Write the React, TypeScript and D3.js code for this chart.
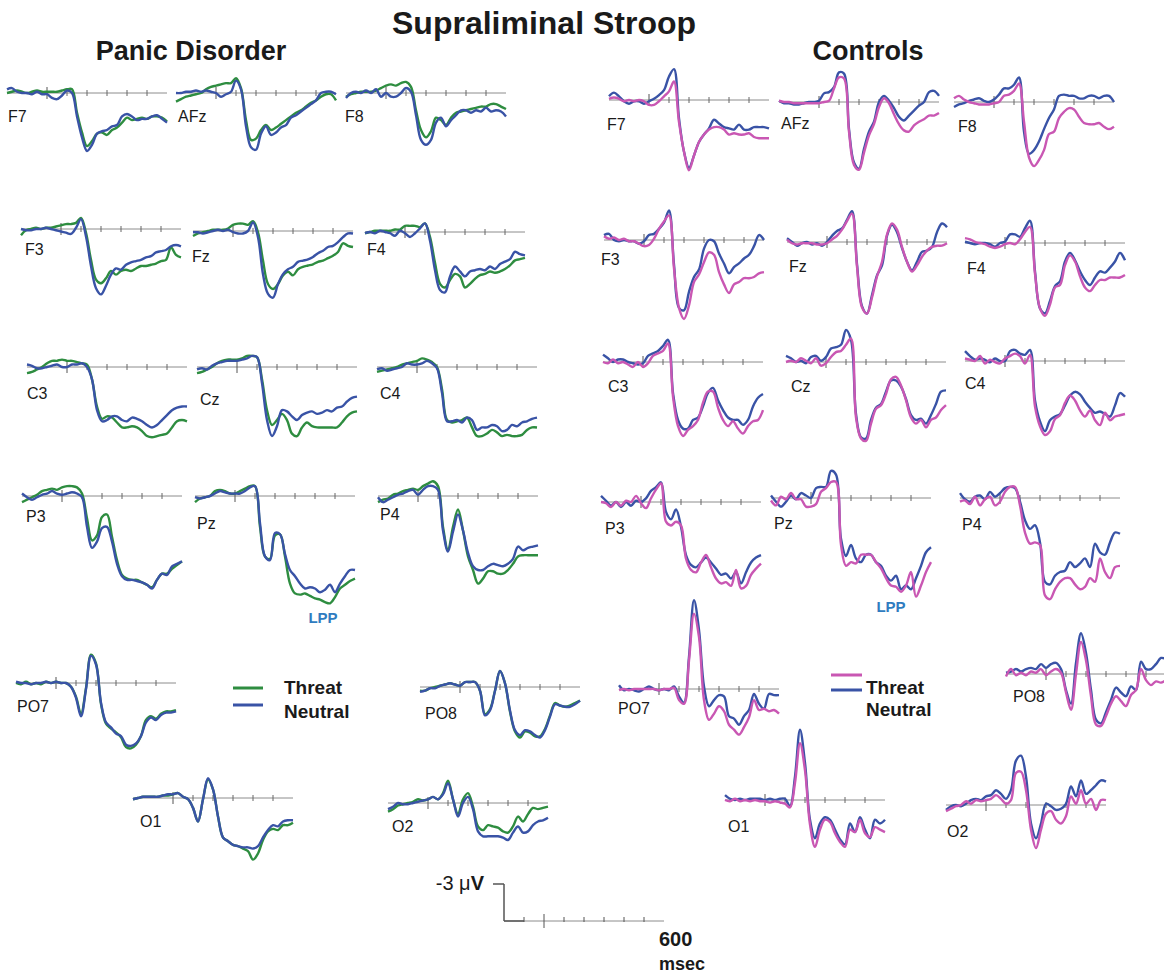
import React from 'react';
import * as d3 from 'd3';

// ---------- DATA (µV, positive plotted downward as in the original) ----------
const TIMES = [-200, -175, -150, -125, -100, -75, -50, -25, 0, 25, 50, 75, 100, 125, 150, 175, 200, 225, 250, 275, 300, 325, 350, 375, 400, 425, 450, 475, 500, 525, 550, 575, 600];
const AXIS_TICKS = [0, 100, 200, 300, 400, 500];
const SCALE_TICKS = [-100, 0, 100, 200, 300, 400, 500];

// Panic Disorder
const pdF7Threat = [0.0, -0.1, -0.2, -0.1, 0, -0.1, -0.2, -0.1, -0.1, -0.1, -0.1, -0.2, -0.3, -0.3, 1.6, 3.2, 4.3, 3.9, 3.3, 3.2, 3.4, 3.0, 2.8, 2.4, 2.0, 2.2, 2.1, 2.0, 2.1, 1.9, 1.9, 2.0, 2.3];
const pdF7Neutral = [-0.3, -0.4, -0.1, 0, 0, 0.1, -0.1, 0.1, 0.1, 0.4, 0.5, 0.2, -0.2, 0, 1.9, 3.6, 4.7, 4.2, 3.3, 3.1, 3.0, 2.7, 2.6, 1.9, 1.7, 1.9, 2.2, 2.1, 2.1, 1.9, 1.8, 2.1, 2.4];
const pdAFzThreat = [0.7, 0.5, 0.3, 0.2, 0.1, 0, -0.3, -0.5, -0.6, -0.7, -0.8, -0.8, -1.2, -0.4, 2.2, 3.8, 3.7, 3.0, 2.6, 3.0, 2.8, 2.5, 2.2, 1.9, 1.6, 1.4, 1.1, 0.8, 0.6, 0.3, 0.1, 0.1, 0.6];
const pdAFzNeutral = [0, 0, -0.1, -0.1, -0.2, -0.1, -0.2, -0.1, 0, 0.3, 0.1, -0.1, -1.0, -0.3, 2.7, 4.4, 4.6, 3.3, 2.7, 3.4, 3.2, 2.8, 2.6, 2.0, 1.8, 1.5, 1.2, 0.9, 0.6, 0, -0.1, -0.1, 0.1];
const pdF8Threat = [0.3, 0.1, 0, -0.1, -0.1, -0.1, -0.2, -0.4, -0.6, -0.7, -0.6, -0.8, -0.9, -0.5, 1.4, 3.0, 3.6, 3.1, 2.0, 2.2, 2.6, 2.0, 1.6, 1.5, 1.4, 1.3, 1.2, 1.1, 1.1, 0.9, 0.9, 1.1, 1.3];
const pdF8Neutral = [0.4, 0, -0.1, 0, -0.2, 0, -0.3, 0.3, 0, 0.3, 0.3, 0, -0.4, -0.1, 1.8, 3.8, 4.2, 3.8, 2.4, 2.0, 2.7, 2.2, 1.8, 1.4, 1.4, 1.6, 1.4, 1.5, 1.2, 1.5, 1.4, 1.5, 1.9];
const pdF3Threat = [0.5, 0.1, 0, -0.1, 0, -0.1, -0.1, -0.2, -0.3, -0.4, -0.4, -0.5, -0.9, 0.3, 2.5, 4.1, 4.4, 4.0, 3.4, 3.7, 3.4, 3.3, 3.4, 3.2, 3.0, 3.0, 2.9, 2.8, 2.6, 2.5, 1.5, 2.1, 2.3];
const pdF3Neutral = [0, 0.1, 0.1, 0, 0, -0.1, 0, 0.1, 0.2, 0.3, 0.4, -0.1, -0.8, 0.6, 3.0, 4.8, 5.3, 4.6, 3.7, 3.2, 3.3, 2.9, 2.7, 2.6, 2.5, 2.3, 2.2, 1.9, 1.8, 1.7, 1.4, 1.3, 1.4];
const pdFzThreat = [0.4, 0.2, 0.1, 0, -0.1, -0.1, -0.1, -0.2, -0.5, -0.6, -0.6, -0.5, -0.8, 0.1, 2.4, 4.3, 4.7, 4.3, 3.6, 3.3, 3.6, 3.1, 2.9, 2.8, 2.7, 2.5, 2.4, 2.2, 2.0, 1.7, 1.0, 1.2, 1.3];
const pdFzNeutral = [0.1, 0.1, 0.2, 0.1, 0, -0.1, 0, -0.1, 0.1, 0.2, 0.2, 0, -0.7, 0.5, 3.5, 5.1, 5.4, 4.3, 3.5, 3.1, 2.9, 2.5, 2.4, 2.3, 2.1, 1.8, 1.6, 1.3, 1.2, 0.9, 0.5, 0.2, 0.2];
const pdF4Threat = [0.1, 0, -0.1, -0.1, -0.1, -0.1, -0.2, -0.2, -0.5, -0.5, -0.5, -0.4, -0.7, 0.4, 2.5, 4.2, 4.5, 3.9, 3.4, 3.6, 4.5, 4.2, 3.8, 3.5, 3.4, 3.2, 3.3, 3.2, 3.0, 2.7, 2.3, 2.2, 2.1];
const pdF4Neutral = [0.1, 0, 0.1, -0.1, 0, 0.1, 0.3, -0.1, 0.1, 0.4, 0.1, -0.3, -0.7, 0.7, 3.1, 4.7, 4.9, 3.6, 2.8, 3.2, 3.6, 3.2, 3.1, 3.0, 3.1, 2.8, 3.0, 2.6, 2.4, 2.2, 1.6, 1.8, 1.9];
const pdC3Threat = [0.5, 0.4, 0.2, 0, -0.3, -0.5, -0.5, -0.6, -0.5, -0.5, -0.4, -0.3, -0.2, 1.0, 3.2, 4.2, 4.0, 4.1, 4.5, 4.9, 4.9, 4.8, 4.9, 5.2, 5.6, 5.7, 5.6, 5.5, 5.4, 4.9, 4.4, 4.3, 4.4];
const pdC3Neutral = [-0.2, -0.1, 0.1, 0.1, 0, -0.1, -0.2, 0, 0, -0.2, -0.2, -0.3, 0, 1.0, 3.5, 4.4, 4.3, 4.0, 4.0, 4.3, 4.4, 4.1, 4.2, 4.4, 4.7, 4.9, 4.7, 4.3, 3.9, 3.5, 3.3, 3.2, 3.2];
const pdCzThreat = [0.5, 0.4, 0.2, 0, -0.3, -0.5, -0.6, -0.6, -0.6, -0.7, -0.9, -0.9, -0.8, 1.0, 3.5, 4.7, 4.3, 3.8, 4.3, 5.4, 5.6, 4.9, 4.5, 4.8, 4.9, 4.9, 4.9, 4.9, 4.9, 4.5, 4.0, 3.7, 3.6];
const pdCzNeutral = [0.2, 0.1, 0.2, -0.1, -0.3, -0.4, -0.5, -0.5, -0.5, -0.6, -0.7, -0.9, -0.8, 1.3, 4.3, 5.6, 4.8, 3.5, 3.6, 4.0, 4.3, 3.9, 3.7, 3.6, 3.8, 3.7, 3.5, 3.6, 3.3, 3.2, 2.8, 2.5, 2.4];
const pdC4Threat = [0.4, 0.3, 0.2, 0.1, 0, -0.2, -0.3, -0.4, -0.5, -0.7, -0.6, -0.4, 0, 1.8, 4.3, 4.5, 4.4, 4.3, 4.1, 4.9, 5.6, 5.6, 5.4, 5.1, 5.3, 5.6, 5.5, 5.6, 5.6, 5.5, 5.1, 4.9, 4.9];
const pdC4Neutral = [0.2, 0.1, 0.3, 0.2, 0.1, 0, -0.3, -0.2, -0.2, -0.3, -0.5, -0.3, 0.1, 2.1, 4.4, 4.4, 4.3, 4.5, 4.1, 4.3, 5.1, 4.9, 4.9, 4.7, 4.8, 5.2, 5.1, 4.7, 4.8, 4.5, 4.4, 4.2, 4.1];
const pdP3Threat = [0.5, 0.3, 0.1, -0.1, -0.4, -0.5, -0.6, -0.5, -0.7, -0.8, -0.8, -0.7, -0.2, 1.8, 3.6, 3.2, 1.7, 1.5, 3.3, 5.2, 6.4, 6.7, 6.8, 6.8, 7.0, 7.2, 7.4, 6.8, 6.3, 6.3, 5.9, 5.6, 5.3];
const pdP3Neutral = [-0.2, 0.1, 0.3, 0.1, -0.1, -0.2, -0.4, -0.2, -0.1, -0.2, -0.3, -0.2, 0.1, 2.5, 4.2, 3.7, 2.6, 2.5, 3.7, 5.5, 6.5, 6.8, 6.8, 6.9, 7.0, 7.2, 7.5, 6.8, 6.3, 6.4, 5.7, 5.5, 5.3];
const pdPzThreat = [0.5, 0.2, 0.1, 0, -0.4, -0.5, -0.4, -0.2, -0.2, -0.4, -0.6, -0.8, -0.8, 2.5, 4.9, 5.1, 3.2, 3.1, 4.9, 7.1, 7.9, 8.0, 7.9, 8.1, 8.3, 8.4, 8.6, 8.7, 8.2, 7.5, 7.2, 6.9, 6.7];
const pdPzNeutral = [0.1, 0.2, 0.1, 0, -0.2, -0.4, -0.3, -0.2, -0.2, -0.2, -0.4, -0.7, -0.8, 2.2, 4.9, 5.2, 3.0, 3.1, 4.7, 6.0, 6.5, 7.1, 7.5, 7.4, 7.5, 7.8, 7.6, 7.2, 7.8, 7.1, 6.5, 6.0, 6.0];
const pdP4Threat = [0.5, 0.3, 0.2, -0.1, -0.2, -0.4, -0.5, -0.6, -0.5, -0.8, -1.0, -1.2, -0.8, 2.5, 4.4, 2.5, 1.1, 2.8, 4.9, 6.0, 7.1, 6.7, 6.1, 6.1, 6.3, 6.3, 6.0, 5.5, 4.9, 4.8, 4.8, 4.8, 4.8];
const pdP4Neutral = [0.1, 0.5, 0.3, 0.1, -0.1, -0.2, -0.4, -0.5, -0.1, -0.5, -0.8, -0.8, -0.5, 2.8, 4.5, 2.9, 1.5, 2.8, 4.6, 5.7, 6.0, 6.0, 5.7, 5.5, 5.6, 5.7, 5.5, 5.1, 4.1, 4.4, 4.2, 4.1, 4.0];
const pdPO7Threat = [0, 0.1, -0.1, 0.1, 0, 0.1, -0.1, 0, -0.1, 0, 0, 0.3, 1.1, 2.5, 0.4, -2.3, -1.6, 1.7, 3.3, 3.7, 4.0, 4.4, 5.2, 5.3, 5.0, 4.3, 3.0, 2.7, 2.9, 2.5, 2.3, 2.3, 2.2];
const pdPO7Neutral = [-0.1, 0, 0, 0.1, 0, 0, -0.1, 0, -0.1, 0, 0, 0.3, 1.2, 2.7, 0.5, -2.2, -1.5, 1.6, 3.2, 3.6, 4.1, 4.3, 5.0, 5.1, 4.9, 4.3, 3.2, 2.8, 3.0, 2.6, 2.4, 2.4, 2.3];
const pdPO8Threat = [0.3, 0.3, 0.1, 0, -0.1, -0.2, -0.3, -0.2, -0.1, -0.4, -0.4, -0.4, 0.3, 2.2, 1.8, 0.3, -1.3, -0.3, 2.0, 3.6, 4.1, 3.6, 3.7, 4.0, 4.0, 3.4, 2.3, 1.3, 1.5, 1.6, 1.5, 1.3, 1.1];
const pdPO8Neutral = [0.4, 0.3, 0.1, 0.1, -0.1, -0.2, -0.3, -0.2, -0.1, -0.4, -0.4, -0.4, 0.3, 2.3, 1.9, 0.3, -1.3, -0.3, 1.9, 3.5, 3.9, 3.5, 3.6, 3.9, 4.1, 3.5, 2.4, 1.4, 1.5, 1.6, 1.6, 1.4, 1.1];
const pdO1Threat = [0.1, 0, -0.1, -0.1, -0.1, -0.1, -0.2, -0.2, -0.3, -0.4, -0.1, 0.1, 0.8, 1.9, 0.1, -1.5, -0.7, 1.5, 3.2, 3.5, 3.8, 3.9, 4.1, 4.3, 5.0, 4.5, 3.4, 2.7, 2.5, 2.6, 2.2, 2.2, 2.0];
const pdO1Neutral = [0.1, 0, -0.1, -0.1, -0.1, -0.1, -0.2, -0.3, -0.3, -0.4, -0.1, 0.1, 0.8, 1.9, 0.1, -1.6, -0.7, 1.5, 3.2, 3.5, 3.8, 3.9, 4.0, 4.0, 4.1, 3.9, 3.2, 2.6, 2.2, 2.3, 1.9, 1.8, 1.8];
const pdO2Threat = [0.7, 0.5, 0.2, 0.1, 0, -0.1, -0.3, -0.2, -0.3, -0.5, -0.3, -0.8, -1.8, -0.3, 0.9, -0.3, -0.8, 0.3, 1.9, 2.2, 1.8, 1.9, 2.0, 2.3, 2.4, 1.9, 1.1, 1.5, 0.9, 0.4, 0.5, 0.4, 0.3];
const pdO2Neutral = [0.5, 0.3, 0, 0.1, 0.1, 0, -0.1, -0.2, -0.3, -0.5, -0.3, -0.7, -1.6, -0.3, 1.1, 0, -0.5, 0.5, 2.3, 2.7, 2.7, 2.7, 2.7, 2.8, 3.0, 2.4, 1.9, 2.4, 2.3, 1.8, 1.5, 1.4, 1.2];

// Controls
const ctF7Threat = [-0.1, -0.2, -0.1, 0.1, 0, 0.1, 0, 0.1, 0.4, 0.4, 0.1, -0.3, -0.7, -1.5, 1.8, 4.2, 5.7, 4.5, 3.4, 2.8, 2.4, 2.2, 2.2, 2.4, 2.8, 2.7, 2.8, 2.8, 2.7, 3.0, 3.1, 3.1, 3.1];
const ctF7Neutral = [-0.3, -0.6, -0.3, 0.1, 0.3, 0.1, 0.1, 0.3, 0.1, -0.1, -0.4, -0.8, -1.9, -2.5, 1.5, 4.2, 5.5, 4.5, 3.4, 2.8, 2.3, 1.6, 1.9, 2.2, 2.3, 2.4, 2.0, 2.4, 2.4, 2.2, 2.2, 2.2, 2.3];
const ctAFzThreat = [-0.1, 0, 0, 0.1, 0.1, 0.1, 0.1, 0.1, 0.1, 0, -0.1, -1.1, -2.0, -1.9, 2.4, 5.1, 5.5, 4.1, 2.7, 1.8, 0.4, -0.3, 0.1, 1.0, 1.8, 2.3, 2.4, 1.9, 1.6, 1.4, 1.1, 1.1, 0.9];
const ctAFzNeutral = [-0.1, 0.1, 0.1, 0.2, 0.2, 0.1, 0, 0, -0.1, -0.7, -0.8, -1.2, -2.4, -2.3, 2.2, 4.9, 5.4, 3.8, 2.4, 1.6, 0, -0.5, -0.1, 0.5, 1.2, 1.5, 1.1, 0.7, 0.3, 0, -0.8, -0.9, -0.5];
const ctF8Threat = [-0.3, -0.5, -0.2, 0, 0.1, 0.2, 0.2, 0.2, 0.1, 0, -0.5, -0.6, -0.9, -1.5, 1.6, 4.5, 5.2, 4.7, 3.9, 2.6, 2.4, 1.3, 0.8, 0.5, 0.6, 1.2, 1.7, 1.8, 1.8, 1.7, 2.0, 2.2, 2.0];
const ctF8Neutral = [0.4, 0.2, 0.1, -0.1, -0.2, -0.3, -0.1, 0, -0.2, -0.6, -1.1, -1.1, -1.4, -2.0, 2.4, 4.2, 3.9, 3.2, 2.2, 1.3, 0.6, -0.5, -0.6, -0.5, -0.5, -0.3, -0.3, -0.5, -0.5, -0.3, -0.5, -0.5, 0];
const ctF3Threat = [-0.3, -0.1, -0.2, 0, -0.1, 0.1, 0.1, 0.3, 0.5, 0.4, -0.1, -0.9, -1.5, -2.0, 2.3, 5.5, 6.4, 5.3, 3.4, 2.8, 1.8, 1.0, 1.2, 2.6, 3.6, 4.3, 3.6, 3.4, 3.1, 3.1, 3.0, 2.7, 2.6];
const ctF3Neutral = [-0.4, -0.5, 0, 0.1, 0, 0.1, 0.1, 0.3, 0.1, -0.4, -0.5, -0.9, -1.4, -2.4, 2.0, 5.5, 5.7, 4.2, 3.0, 2.4, 0.7, 0, 0.1, 1.1, 1.9, 2.7, 2.2, 1.9, 1.5, 1.2, 0.5, -0.4, 0];
const ctFzThreat = [-0.2, 0.1, 0.2, 0.1, 0.1, 0.1, 0.2, 0.2, 0.1, -0.2, -0.5, -1.0, -1.7, -2.3, 2.0, 5.3, 5.8, 4.5, 2.8, 1.6, -0.6, -1.5, -1.0, 0.4, 1.6, 2.4, 1.9, 1.2, 0.7, 0.4, 0.3, 0.3, 0.1];
const ctFzNeutral = [-0.3, 0, 0.3, 0.1, 0, 0.2, 0.1, 0.3, 0, -0.5, -0.9, -1.1, -1.8, -2.5, 1.8, 5.2, 5.8, 4.3, 2.7, 1.9, -0.5, -1.4, -0.8, 0.5, 1.6, 2.3, 1.6, 0.8, 0.7, 0.4, -0.8, -1.5, -1.2];
const ctF4Threat = [-0.4, -0.3, -0.1, 0, 0.1, 0.3, 0.4, 0.3, 0.1, 0, 0.1, -0.3, -0.9, -1.3, 2.5, 5.3, 5.9, 5.0, 3.6, 3.4, 1.8, 1.0, 1.5, 2.7, 3.6, 3.9, 3.4, 3.0, 3.0, 2.8, 2.8, 2.8, 2.6];
const ctF4Neutral = [-0.1, 0, 0.1, 0, 0, 0.1, 0.3, 0, -0.1, -0.7, -0.7, -0.5, -1.2, -1.8, 2.3, 5.3, 5.7, 4.7, 3.5, 3.1, 1.5, 0.8, 1.4, 2.3, 3.0, 3.4, 2.8, 2.3, 2.4, 2.0, 1.5, 0.8, 1.4];
const ctC3Threat = [0, 0.1, -0.2, 0.1, 0, 0.2, 0.4, 0, 0.4, 0.1, -0.5, -0.7, -0.9, -1.5, 2.8, 5.2, 6.0, 5.5, 5.2, 4.7, 3.3, 2.4, 2.4, 3.7, 4.7, 5.2, 4.8, 5.4, 5.8, 5.2, 4.8, 4.7, 3.9];
const ctC3Neutral = [-0.6, -0.3, 0, -0.2, -0.2, 0, 0.1, 0.2, 0.1, -0.5, -0.7, -0.9, -1.3, -1.8, 2.5, 4.7, 5.4, 5.4, 4.7, 4.5, 3.6, 2.5, 2.1, 3.1, 3.9, 4.5, 4.7, 4.7, 5.1, 4.7, 3.6, 2.9, 2.6];
const ctCzThreat = [0, -0.1, 0, -0.3, -0.1, 0.1, -0.3, 0.3, 0.1, -0.4, -0.8, -0.9, -1.4, -1.9, 4.5, 6.2, 6.4, 5.0, 3.8, 3.5, 2.6, 1.4, 1.2, 1.9, 3.1, 4.5, 5.0, 4.7, 5.3, 4.7, 4.5, 3.9, 3.5];
const ctCzNeutral = [-0.5, -0.3, 0, -0.1, 0.1, -0.4, -0.5, -0.1, -0.4, -1.1, -1.2, -1.4, -2.6, -1.8, 4.2, 6.1, 6.2, 4.7, 3.7, 3.4, 2.4, 1.5, 1.5, 2.0, 3.0, 4.3, 4.7, 4.6, 5.0, 4.3, 3.4, 2.4, 2.3];
const ctC4Threat = [-0.2, -0.1, 0, -0.4, 0.2, -0.1, 0.1, 0.2, -0.2, -0.4, -0.6, -0.4, 0.2, -0.5, 3.7, 5.3, 6.0, 5.7, 4.7, 4.4, 3.4, 2.8, 3.2, 4.0, 4.5, 4.0, 4.8, 5.2, 4.2, 4.8, 4.5, 4.4, 4.3];
const ctC4Neutral = [-0.8, -0.4, -0.1, -0.2, -0.1, 0.1, -0.2, 0, 0, -0.8, -0.9, -0.6, -0.5, -0.9, 3.2, 4.9, 5.7, 4.8, 4.5, 4.3, 3.6, 2.8, 2.5, 2.7, 3.3, 3.8, 4.2, 4.1, 4.3, 4.5, 3.6, 2.6, 2.9];
const ctP3Threat = [0, 0.1, 0.4, 0, 0.3, -0.1, 0, -0.5, 0.1, 0.5, -0.3, -1.0, -1.5, 1.6, 1.9, 1.6, 1.9, 4.6, 5.5, 5.7, 4.9, 4.3, 5.3, 6.2, 6.6, 6.5, 6.8, 5.5, 7.0, 6.8, 5.9, 5.4, 5.0];
const ctP3Neutral = [-0.5, -0.1, 0.3, 0, 0.4, 0, 0.3, -0.1, 0, -0.3, -0.9, -1.2, -1.6, 0.8, 1.4, 0.6, 2.0, 4.3, 5.1, 5.3, 4.9, 4.5, 4.9, 5.4, 5.9, 5.8, 6.2, 5.7, 6.6, 5.7, 4.9, 4.5, 4.3];
const ctPzThreat = [0.2, 0.6, -0.1, 0.1, -0.4, 0.1, 0.1, 0.7, 0.7, 0.5, -0.5, -0.8, -1.3, -1.3, 3.8, 5.5, 5.2, 5.3, 4.6, 4.6, 4.6, 5.2, 5.7, 6.5, 7.1, 7.2, 7.6, 7.1, 6.0, 8.0, 7.1, 6.0, 5.2];
const ctPzNeutral = [-0.2, 0.3, 0.7, 0.3, -0.2, 0.1, -0.4, -0.2, 0, -0.8, -0.9, -0.9, -2.2, -1.9, 3.3, 4.7, 3.8, 4.9, 5.2, 4.6, 4.6, 5.2, 5.5, 6.3, 6.7, 6.3, 7.4, 7.1, 7.4, 6.5, 5.5, 4.4, 4.0];
const ctP4Threat = [0.3, 0.2, 0.5, -0.1, 0.6, 0.1, -0.1, 0.6, 0.3, -0.5, -0.9, -0.9, 0.6, 2.8, 3.7, 3.6, 3.8, 7.9, 8.2, 7.4, 6.8, 6.5, 6.5, 7.0, 7.4, 7.2, 6.5, 6.8, 4.9, 6.0, 6.5, 5.6, 5.5];
const ctP4Neutral = [-0.4, 0.1, 0.3, -0.1, -0.2, 0.1, -0.5, -0.1, -0.4, -0.8, -0.9, -0.8, 0.3, 1.8, 2.5, 2.2, 3.6, 6.8, 7.0, 6.3, 6.0, 5.9, 5.2, 5.6, 5.3, 4.9, 5.6, 3.7, 4.4, 4.6, 3.6, 2.8, 2.9];
const ctPO7Threat = [0.1, 0, 0.1, 0, 0, 0, 0, 0, 0.1, 0, 0, -0.1, 0.9, 1.2, -2.3, -6.1, -4.2, 0.9, 2.5, 2.0, 1.4, 1.8, 2.9, 3.3, 3.7, 3.1, 2.3, 0.9, 1.7, 1.6, 1.8, 1.7, 2.0];
const ctPO7Neutral = [-0.3, 0.1, 0, 0.1, 0.2, 0, -0.2, 0, 0.1, 0, 0.1, -0.2, 0.6, 1.1, -2.6, -7.2, -4.8, -0.2, 1.4, 0.9, 0.5, 0.6, 2.2, 2.4, 2.9, 2.2, 1.7, 0.4, 1.2, 1.6, 0.4, 0.5, 0.5];
const ctPO8Threat = [0.2, -0.4, 0.1, -0.1, 0.1, -0.2, -0.1, -0.4, 0.1, -0.2, -0.4, -0.1, 1.5, 2.9, 0, -2.6, -1.1, 1.8, 4.1, 4.2, 3.4, 2.4, 1.8, 2.2, 2.6, 1.7, 1.3, -0.4, 0.5, 0.9, 0.6, 0.7, 0.5];
const ctPO8Neutral = [-0.1, -0.2, -0.4, -0.2, -0.4, -0.5, -0.4, -0.8, -0.5, -0.8, -0.9, -0.4, 1.3, 2.4, -0.9, -3.3, -1.7, 1.3, 3.7, 4.0, 3.1, 2.1, 1.1, 1.5, 1.8, 1.0, 1.3, -1.0, -0.4, -0.4, -0.8, -1.3, -1.2];
const ctO1Threat = [0, 0.1, -0.1, 0.1, 0, 0.1, 0, 0.1, 0.1, 0.2, 0.1, 0.2, 0.3, 0.6, -1.4, -4.6, -2.4, 2.0, 3.8, 2.4, 1.6, 1.8, 2.7, 3.4, 3.8, 2.4, 2.6, 1.6, 2.7, 3.0, 2.2, 2.4, 2.6];
const ctO1Neutral = [-0.4, -0.1, 0, -0.1, 0, -0.1, -0.1, -0.1, 0, -0.1, 0, -0.1, -0.1, 0.5, -1.9, -5.7, -3.0, 1.6, 3.1, 1.9, 1.4, 1.6, 2.4, 3.2, 3.6, 1.9, 2.6, 1.4, 2.4, 3.1, 1.6, 1.9, 1.6];
const ctO2Threat = [0.5, 0.3, 0.1, 0, -0.3, -0.1, -0.4, -0.3, -0.4, -0.5, -0.8, -0.5, -0.1, -0.4, -2.6, -2.7, -1.2, 2.0, 3.5, 2.0, 0.7, 0.5, 1.2, 1.5, 0.9, -0.7, -0.1, -1.2, -0.1, -0.5, 0.4, -0.4, -0.4];
const ctO2Neutral = [0.4, 0.1, 0, 0.1, -0.1, -0.4, -0.5, -0.4, -0.7, -0.8, -1.2, -0.9, -0.5, -1.2, -3.6, -4.0, -2.3, 1.5, 2.7, 1.5, -0.1, 0.1, 0.4, 0.3, -0.1, -1.5, -0.7, -2.0, -0.9, -1.2, -1.6, -2.0, -1.9];

const PD_PANELS = [
  { name: 'F7', threat: pdF7Threat, neutral: pdF7Neutral },
  { name: 'AFz', threat: pdAFzThreat, neutral: pdAFzNeutral },
  { name: 'F8', threat: pdF8Threat, neutral: pdF8Neutral },
  { name: 'F3', threat: pdF3Threat, neutral: pdF3Neutral },
  { name: 'Fz', threat: pdFzThreat, neutral: pdFzNeutral },
  { name: 'F4', threat: pdF4Threat, neutral: pdF4Neutral },
  { name: 'C3', threat: pdC3Threat, neutral: pdC3Neutral },
  { name: 'Cz', threat: pdCzThreat, neutral: pdCzNeutral },
  { name: 'C4', threat: pdC4Threat, neutral: pdC4Neutral },
  { name: 'P3', threat: pdP3Threat, neutral: pdP3Neutral },
  { name: 'Pz', threat: pdPzThreat, neutral: pdPzNeutral },
  { name: 'P4', threat: pdP4Threat, neutral: pdP4Neutral },
  { name: 'PO7', threat: pdPO7Threat, neutral: pdPO7Neutral },
  { name: 'PO8', threat: pdPO8Threat, neutral: pdPO8Neutral },
  { name: 'O1', threat: pdO1Threat, neutral: pdO1Neutral },
  { name: 'O2', threat: pdO2Threat, neutral: pdO2Neutral },
];
const CT_PANELS = [
  { name: 'F7', threat: ctF7Threat, neutral: ctF7Neutral },
  { name: 'AFz', threat: ctAFzThreat, neutral: ctAFzNeutral },
  { name: 'F8', threat: ctF8Threat, neutral: ctF8Neutral },
  { name: 'F3', threat: ctF3Threat, neutral: ctF3Neutral },
  { name: 'Fz', threat: ctFzThreat, neutral: ctFzNeutral },
  { name: 'F4', threat: ctF4Threat, neutral: ctF4Neutral },
  { name: 'C3', threat: ctC3Threat, neutral: ctC3Neutral },
  { name: 'Cz', threat: ctCzThreat, neutral: ctCzNeutral },
  { name: 'C4', threat: ctC4Threat, neutral: ctC4Neutral },
  { name: 'P3', threat: ctP3Threat, neutral: ctP3Neutral },
  { name: 'Pz', threat: ctPzThreat, neutral: ctPzNeutral },
  { name: 'P4', threat: ctP4Threat, neutral: ctP4Neutral },
  { name: 'PO7', threat: ctPO7Threat, neutral: ctPO7Neutral },
  { name: 'PO8', threat: ctPO8Threat, neutral: ctPO8Neutral },
  { name: 'O1', threat: ctO1Threat, neutral: ctO1Neutral },
  { name: 'O2', threat: ctO2Threat, neutral: ctO2Neutral },
];

// ---------- LAYOUT (zero-ms x, baseline y, label x, label baseline y) ----------
const PD_LAYOUT: Record<string, number[]> = {
  F7: [47, 93, 8, 122], AFz: [216, 93, 178, 122], F8: [386, 93, 345, 122],
  F3: [61, 229, 25, 255], Fz: [233, 231, 192, 262], F4: [405, 232, 367, 255],
  C3: [67, 367, 27, 399], Cz: [237, 367, 200, 405], C4: [417, 367, 380, 399],
  P3: [62, 496, 26, 522], Pz: [235, 496, 197, 529], P4: [418, 496, 380, 520],
  PO7: [56, 683, 17, 712], PO8: [460, 687, 425, 719],
  O1: [173, 798, 140, 827], O2: [428, 803, 392, 832],
};
const CT_LAYOUT: Record<string, number[]> = {
  F7: [649, 100, 607, 130], AFz: [819, 102, 781, 129], F8: [994, 102, 958, 132],
  F3: [644, 240, 601, 265], Fz: [827, 242, 789, 272], F4: [1005, 243, 967, 274],
  C3: [643, 362, 608, 392], Cz: [826, 362, 791, 392], C4: [1005, 361, 965, 389],
  P3: [641, 502, 605, 534], Pz: [811, 498, 774, 529], P4: [1000, 498, 962, 530],
  PO7: [659, 689, 618, 714], PO8: [1046, 674, 1013, 702],
  O1: [765, 800, 728, 832], O2: [986, 805, 947, 837],
};

const PX_PER_100MS = 20;
const PX_PER_3UV = 37;

const COL = {
  pdThreat: '#2e8d40',
  neutral: '#3953a6',
  ctThreat: '#c957b3',
  axis: '#8c8c8c',
  text: '#1a1a1a',
  lpp: '#2f7cc0',
};
const FONT = 'Liberation Sans, Arial, Helvetica, sans-serif';

function Panel({ panel, layout, threatColor, neutralOnTop }: any) {
  const [zx, by, lx, ly] = layout;
  const x = d3.scaleLinear().domain([0, 100]).range([zx, zx + PX_PER_100MS]);
  const y = d3.scaleLinear().domain([0, 3]).range([by, by + PX_PER_3UV]);
  const line = d3
    .line<number>()
    .x((_, i) => x(TIMES[i]))
    .y((v) => y(v))
    .curve(d3.curveCatmullRom.alpha(0.5));
  const tPath = line(panel.threat) || '';
  const nPath = line(panel.neutral) || '';
  const x0 = x(TIMES[0]);
  const x1 = x(TIMES[TIMES.length - 1]);
  const threatEl = <path d={tPath} fill="none" stroke={threatColor} strokeWidth={2.4} strokeLinejoin="round" />;
  const neutralEl = <path d={nPath} fill="none" stroke={COL.neutral} strokeWidth={2.4} strokeLinejoin="round" />;
  return (
    <g>
      <line x1={x0} x2={x1} y1={by} y2={by} stroke={COL.axis} strokeWidth={1} />
      {AXIS_TICKS.map((t) => (
        <line
          key={t}
          x1={x(t)}
          x2={x(t)}
          y1={by - (t === 0 ? 6 : 3)}
          y2={by + (t === 0 ? 6 : 3)}
          stroke={t === 0 ? '#555' : '#666'}
          strokeWidth={1}
        />
      ))}
      {neutralOnTop ? threatEl : neutralEl}
      {neutralOnTop ? neutralEl : threatEl}
      <text x={lx} y={ly} fontSize={16} fontFamily={FONT} fill={COL.text}>
        {panel.name}
      </text>
    </g>
  );
}

function ScaleBar() {
  const zx = 544;
  const by = 921;
  const x = d3.scaleLinear().domain([0, 100]).range([zx, zx + PX_PER_100MS]);
  const y = d3.scaleLinear().domain([0, -3]).range([by, by - PX_PER_3UV]);
  const xs = x(-200);
  return (
    <g>
      <line x1={xs} x2={x(600)} y1={by} y2={by} stroke={COL.axis} strokeWidth={1} />
      <line x1={xs} x2={x(-100)} y1={by} y2={by} stroke="#555" strokeWidth={1.5} />
      <line x1={xs} x2={xs} y1={y(0)} y2={y(-3)} stroke="#555" strokeWidth={1.5} />
      <line x1={xs - 11} x2={xs} y1={y(-3)} y2={y(-3)} stroke="#555" strokeWidth={1.5} />
      {SCALE_TICKS.map((t) => (
        <line key={t} x1={x(t)} x2={x(t)} y1={by - (t === 0 ? 7 : 4)} y2={by + (t === 0 ? 7 : 1)} stroke="#555" strokeWidth={1} />
      ))}
      <text x={xs - 20} y={y(-3) + 6} fontSize={20} fontFamily={FONT} fill={COL.text} textAnchor="end">
        -3 μ<tspan fontWeight="bold">V</tspan>
      </text>
      <text x={x(600) - 5} y={946} fontSize={20} fontWeight="bold" fontFamily={FONT} fill={COL.text}>
        600
      </text>
      <text x={x(600) - 5} y={970} fontSize={18} fontWeight="bold" fontFamily={FONT} fill={COL.text}>
        msec
      </text>
    </g>
  );
}

function Legend({ x, lineX0, lineX1, threatLineY, neutralLineY, threatTextY, neutralTextY, threatColor }: any) {
  return (
    <g>
      <line x1={lineX0} x2={lineX1} y1={threatLineY} y2={threatLineY} stroke={threatColor} strokeWidth={3} />
      <line x1={lineX0} x2={lineX1} y1={neutralLineY} y2={neutralLineY} stroke={COL.neutral} strokeWidth={3} />
      <text x={x} y={threatTextY} fontSize={19} fontWeight="bold" fontFamily={FONT} fill={COL.text}>
        Threat
      </text>
      <text x={x} y={neutralTextY} fontSize={19} fontWeight="bold" fontFamily={FONT} fill={COL.text}>
        Neutral
      </text>
    </g>
  );
}

export default function App() {
  return (
    <div style={{ position: 'absolute', left: 0, top: 0, width: 1164, height: 974, background: '#ffffff' }}>
      <svg width={1164} height={974} style={{ display: 'block' }}>
        <rect x={0} y={0} width={1164} height={974} fill="#ffffff" />
        <text x={544} y={34} textAnchor="middle" fontSize={32} fontWeight="bold" fontFamily={FONT} fill={COL.text}>
          Supraliminal Stroop
        </text>
        <text x={191} y={60} textAnchor="middle" fontSize={27} fontWeight="bold" fontFamily={FONT} fill={COL.text}>
          Panic Disorder
        </text>
        <text x={868} y={60} textAnchor="middle" fontSize={27} fontWeight="bold" fontFamily={FONT} fill={COL.text}>
          Controls
        </text>

        {PD_PANELS.map((p) => (
          <Panel key={'pd' + p.name} panel={p} layout={PD_LAYOUT[p.name]} threatColor={COL.pdThreat} neutralOnTop={true} />
        ))}
        {CT_PANELS.map((p) => (
          <Panel key={'ct' + p.name} panel={p} layout={CT_LAYOUT[p.name]} threatColor={COL.ctThreat} neutralOnTop={false} />
        ))}

        <text x={323} y={623} textAnchor="middle" fontSize={15} fontWeight="bold" fontFamily={FONT} fill={COL.lpp}>
          LPP
        </text>
        <text x={891} y={612} textAnchor="middle" fontSize={15} fontWeight="bold" fontFamily={FONT} fill={COL.lpp}>
          LPP
        </text>

        <Legend x={284} lineX0={233} lineX1={263} threatLineY={688} neutralLineY={705} threatTextY={694} neutralTextY={718} threatColor={COL.pdThreat} />
        <Legend x={866} lineX0={831} lineX1={862} threatLineY={675} neutralLineY={690} threatTextY={694} neutralTextY={716} threatColor={COL.ctThreat} />

        <ScaleBar />
      </svg>
    </div>
  );
}
